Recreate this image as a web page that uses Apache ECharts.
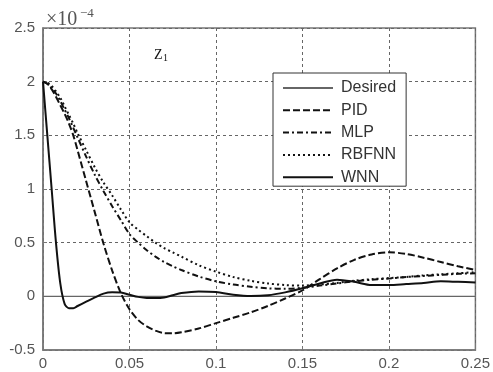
<!DOCTYPE html>
<html>
<head>
<meta charset="utf-8">
<script src="https://cdn.jsdelivr.net/npm/echarts@6/dist/echarts.min.js"></script>
<style>
html,body{margin:0;padding:0;background:#fff;}
#c{width:493px;height:372px;}
</style>
</head>
<body>
<div id="c"></div>
<script>
// time samples (s)
var t = [0, 0.0025, 0.005, 0.0075, 0.01, 0.0125, 0.015, 0.0175, 0.02, 0.025, 0.03, 0.035, 0.04, 0.045, 0.05, 0.055, 0.06, 0.065, 0.07, 0.075, 0.08, 0.09, 0.1, 0.11, 0.12, 0.13, 0.14, 0.15, 0.16, 0.17, 0.18, 0.19, 0.2, 0.21, 0.22, 0.23, 0.24, 0.25];
// values in units of 1e-4
var desired = [0, 0, 0, 0, 0, 0, 0, 0, 0, 0, 0, 0, 0, 0, 0, 0, 0, 0, 0, 0, 0, 0, 0, 0, 0, 0, 0, 0, 0, 0, 0, 0, 0, 0, 0, 0, 0, 0];
var pid = [2.0, 1.98, 1.93, 1.86, 1.78, 1.7, 1.61, 1.5, 1.36, 1.07, 0.78, 0.49, 0.24, 0.03, -0.12, -0.22, -0.28, -0.32, -0.343, -0.345, -0.335, -0.30, -0.25, -0.2, -0.15, -0.09, -0.02, 0.055, 0.16, 0.26, 0.34, 0.39, 0.41, 0.395, 0.36, 0.32, 0.28, 0.245];
var mlp = [2.0, 1.98, 1.94, 1.89, 1.82, 1.74, 1.66, 1.57, 1.48, 1.3, 1.13, 0.98, 0.84, 0.71, 0.58, 0.5, 0.43, 0.37, 0.32, 0.28, 0.245, 0.185, 0.14, 0.11, 0.09, 0.075, 0.07, 0.08, 0.1, 0.12, 0.14, 0.155, 0.165, 0.18, 0.19, 0.2, 0.21, 0.215];
var rbfnn = [2.0, 1.99, 1.96, 1.91, 1.85, 1.77, 1.69, 1.61, 1.52, 1.36, 1.2, 1.06, 0.94, 0.81, 0.69, 0.62, 0.56, 0.5, 0.45, 0.41, 0.37, 0.29, 0.23, 0.18, 0.145, 0.12, 0.105, 0.1, 0.11, 0.125, 0.145, 0.16, 0.17, 0.18, 0.195, 0.205, 0.215, 0.225];
var wnn = [2.0, 1.5, 1.0, 0.5, 0.12, -0.07, -0.11, -0.11, -0.09, -0.05, -0.01, 0.025, 0.037, 0.035, 0.015, -0.005, -0.015, -0.015, -0.01, 0.01, 0.03, 0.045, 0.04, 0.015, 0.003, 0.01, 0.037, 0.075, 0.12, 0.155, 0.135, 0.105, 0.105, 0.115, 0.125, 0.14, 0.135, 0.13];
var seriesNames = ['Desired', 'PID', 'MLP', 'RBFNN', 'WNN'];

function pairs(ys) { return t.map(function (x, i) { return [x, ys[i]]; }); }

var chart = echarts.init(document.getElementById('c'), null, {renderer: 'canvas'});
var axisFont = {color: '#555', fontSize: 15, fontFamily: 'Liberation Sans'};
var option = {
  animation: false,
  backgroundColor: '#fff',
  grid: {left: 43, right: 16, top: 28, bottom: 22, show: true, borderColor: '#777', borderWidth: 1.5, backgroundColor: '#fff'},
  xAxis: {
    type: 'value', min: 0, max: 0.25, interval: 0.05,
    axisLine: {show: true, onZero: false, lineStyle: {color: '#777', width: 1.5}},
    axisTick: {show: true, inside: true, length: 4, lineStyle: {color: '#777'}},
    axisLabel: Object.assign({margin: 6}, axisFont),
    splitLine: {show: true, lineStyle: {type: [3, 3], color: '#666', width: 1}}
  },
  yAxis: {
    type: 'value', min: -0.5, max: 2.5, interval: 0.5,
    axisLine: {show: true, onZero: false, lineStyle: {color: '#777', width: 1.5}},
    axisTick: {show: true, inside: true, length: 4, lineStyle: {color: '#777'}},
    axisLabel: Object.assign({margin: 8}, axisFont),
    splitLine: {show: true, lineStyle: {type: [3, 3], color: '#666', width: 1}}
  },
  legend: {
    data: seriesNames,
    orient: 'vertical',
    left: 273, top: 73,
    padding: [7, 10, 1, 9],
    itemWidth: 50, itemHeight: 14, itemGap: 6.3,
    itemStyle: {opacity: 0, borderWidth: 0},
    backgroundColor: '#fff', borderColor: '#333', borderWidth: 1,
    textStyle: {fontSize: 16, color: '#333', fontFamily: 'Liberation Sans', padding: [0, 0, 0, 3]}
  },
  graphic: [
    {type: 'text', left: 46, top: 10, style: {text: '×10', font: '20px "Liberation Serif"', fill: '#555'}},
    {type: 'text', left: 80, top: 7, style: {text: '−4', font: '13px "Liberation Serif"', fill: '#555'}},
    {type: 'text', left: 154, top: 48, style: {text: 'Z', font: '14px "Liberation Serif"', fill: '#111'}},
    {type: 'text', left: 163, top: 53, style: {text: '1', font: '10px "Liberation Serif"', fill: '#111'}}
  ],
  series: [
    {name: 'Desired', type: 'line', data: pairs(desired), symbol: 'none', smooth: false,
      lineStyle: {color: '#666', width: 1.2, type: 'solid'}, itemStyle: {color: '#666'}},
    {name: 'PID', type: 'line', data: pairs(pid), symbol: 'none', smooth: 0.3,
      lineStyle: {color: '#111', width: 2, type: [7, 3]}, itemStyle: {color: '#111'}},
    {name: 'MLP', type: 'line', data: pairs(mlp), symbol: 'none', smooth: 0.3,
      lineStyle: {color: '#111', width: 2, type: [6, 3, 2, 3]}, itemStyle: {color: '#111'}},
    {name: 'RBFNN', type: 'line', data: pairs(rbfnn), symbol: 'none', smooth: 0.3,
      lineStyle: {color: '#111', width: 2, type: [2, 3]}, itemStyle: {color: '#111'}},
    {name: 'WNN', type: 'line', data: pairs(wnn), symbol: 'none', smooth: 0.3,
      lineStyle: {color: '#111', width: 2, type: 'solid'}, itemStyle: {color: '#111'}}
  ]
};
chart.setOption(option);
</script>
</body>
</html>
